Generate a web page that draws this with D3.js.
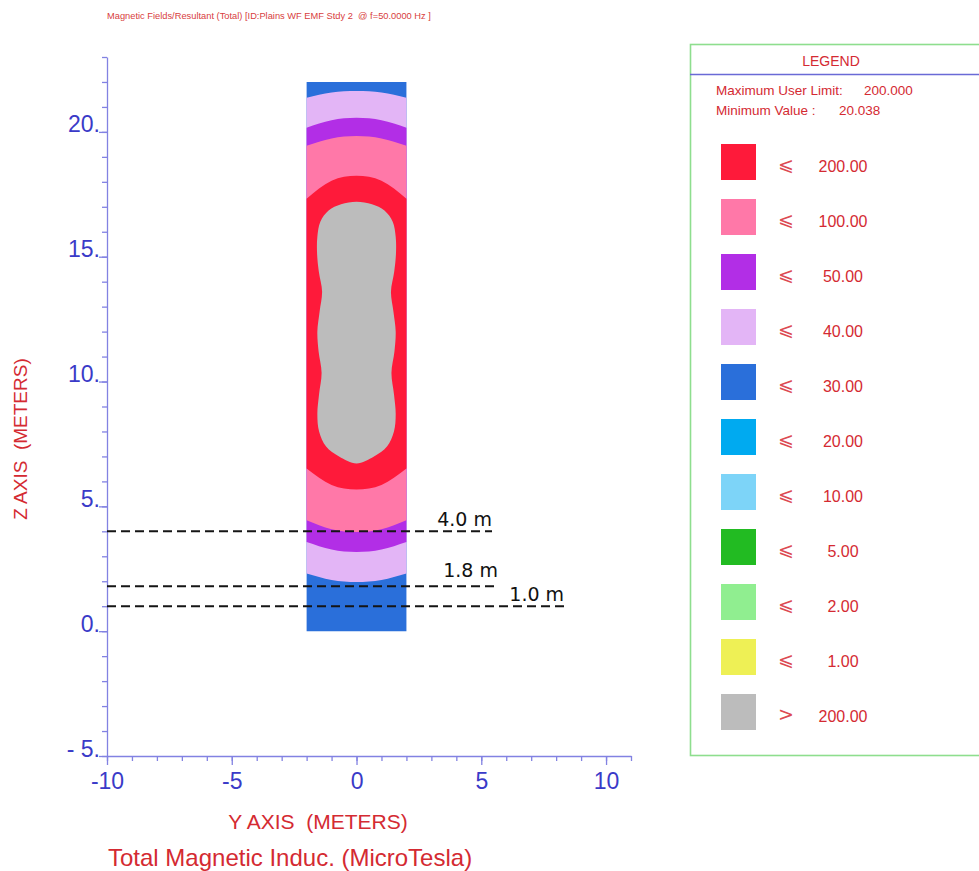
<!DOCTYPE html>
<html><head><meta charset="utf-8">
<script src="https://cdn.jsdelivr.net/npm/d3@7/dist/d3.min.js"></script>
<style>body{margin:0;background:#fff;} svg{display:block;}</style>
</head><body>
<svg id="c" width="979" height="871"></svg>
<script>
// ---------- data ----------
const titleText = "Magnetic Fields/Resultant (Total) [ID:Plains WF EMF Stdy 2  @ f=50.0000 Hz ]";
const yAxisTitle = "Y AXIS  (METERS)";
const zAxisTitle = "Z AXIS  (METERS)";
const unitTitle = "Total Magnetic Induc. (MicroTesla)";

const yMajorTicks = [-10, -5, 0, 5, 10];
const yTickLabels = ["-10", "-5", "0", "5", "10"];
const zMajorTicks = [-5, 0, 5, 10, 15, 20];
const zTickLabels = ["- 5.", "0.", "5.", "10.", "15.", "20."];

// sample positions across the calculation strip (Y, metres)
const bandY = [-2, -1, 0, 1, 2];
// upper / lower boundaries of each level (Z, metres)
const blueUpper   = [22, 22, 22, 22, 22];
const blueLower   = [0, 0, 0, 0, 0];
const lilacUpper  = [21.37, 21.58, 21.64, 21.58, 21.37];
const lilacLower  = [2.31, 2.05, 1.97, 2.05, 2.31];
const purpleUpper = [20.17, 20.47, 20.57, 20.47, 20.17];
const purpleLower = [3.57, 3.27, 3.17, 3.27, 3.57];
const pinkUpper   = [19.44, 19.74, 19.84, 19.74, 19.44];
const pinkLower   = [4.44, 4.08, 3.97, 4.08, 4.44];
const redUpper    = [17.32, 18.04, 18.24, 18.04, 17.32];
const redLower    = [6.52, 5.86, 5.68, 5.86, 6.52];

// > 200 µT core (half width vs Z)
const grayZ     = [17.2, 17.1, 16.85, 16.4, 15.8, 15.1, 14.4, 13.6, 12.8, 12.0, 11.2, 10.35, 9.5, 8.7, 8.0, 7.4, 7.0, 6.72];
const grayHalfW = [0, 0.62, 1.12, 1.45, 1.57, 1.58, 1.51, 1.38, 1.48, 1.57, 1.52, 1.4, 1.5, 1.57, 1.5, 1.22, 0.7, 0];

// measurement heights
const refLevels = [4.0, 1.8, 1.0];
const refEnds   = [5.43, 5.67, 8.32];
const refLabels = ["4.0 m", "1.8 m", "1.0 m"];

// legend
const legendColors  = ["#fe1a3a", "#ff78a8", "#b22ee6", "#e3b5f6", "#2a6fda", "#00aaf0", "#7dd4f8", "#22bb22", "#90ee90", "#eef055", "#bcbcbc"];
const legendSymbols = ["⩽", "⩽", "⩽", "⩽", "⩽", "⩽", "⩽", "⩽", "⩽", "⩽", ">"];
const legendValues  = ["200.00", "100.00", "50.00", "40.00", "30.00", "20.00", "10.00", "5.00", "2.00", "1.00", "200.00"];
const legendInfoLabels = ["Maximum User Limit:", "Minimum Value :"];
const legendInfoValues = ["200.000", "20.038"];

// ---------- drawing ----------
const svg = d3.select("#c");
const RED = "#d42a32", AX = "#8282e2", AXT = "#3a3ac8";
const x = d3.scaleLinear().domain([-10, 11]).range([107, 631]);
const z = d3.scaleLinear().domain([-5, 23]).range([756, 57]);

svg.append("text").attr("x", 107).attr("y", 19).attr("fill", "#d84040")
  .attr("xml:space", "preserve").style("white-space", "pre")
  .style("font", "9.3px 'Liberation Sans', Arial, sans-serif").text(titleText);

// bands
const bands = [
  {c: legendColors[4], up: blueUpper, lo: blueLower},
  {c: legendColors[3], up: lilacUpper, lo: lilacLower},
  {c: legendColors[2], up: purpleUpper, lo: purpleLower},
  {c: legendColors[1], up: pinkUpper, lo: pinkLower},
  {c: legendColors[0], up: redUpper, lo: redLower}
];
const area = d3.area().curve(d3.curveNatural)
  .x(d => x(d.y)).y0(d => z(d.lo)).y1(d => z(d.up));
bands.forEach(b => {
  const pts = bandY.map((y, i) => ({y, up: b.up[i], lo: b.lo[i]}));
  svg.append("path").attr("d", area(pts)).attr("fill", b.c);
});

// gray core
const right = grayZ.map((zz, i) => [grayHalfW[i], zz]);
const left = grayZ.slice(1, -1).map((zz, i) => [-grayHalfW[i + 1], zz]).reverse();
const grayPts = right.concat(left);
svg.append("path")
  .attr("d", d3.line().curve(d3.curveCatmullRomClosed.alpha(0.5)).x(d => x(d[0])).y(d => z(d[1]))(grayPts))
  .attr("fill", legendColors[10]);

// axes
function styleAxis(g) {
  g.selectAll("path,line").attr("stroke", AX).attr("stroke-width", 1.3);
  g.selectAll("text").attr("fill", AXT)
    .style("font", "23px 'Liberation Sans', Arial, sans-serif");
}
const yMinor = svg.append("g").attr("transform", `translate(0,${z(-5)})`)
  .call(d3.axisBottom(x).tickValues(d3.range(-10, 12)).tickSize(5).tickSizeOuter(0).tickFormat(""));
styleAxis(yMinor);
const yMajor = svg.append("g").attr("transform", `translate(0,${z(-5)})`)
  .call(d3.axisBottom(x).tickValues(yMajorTicks).tickSize(9).tickSizeOuter(0)
    .tickFormat((d, i) => yTickLabels[i]));
yMajor.select(".domain").remove();
styleAxis(yMajor);
yMajor.selectAll("text").attr("y", 17).attr("dy", "0.71em");

const zMinor = svg.append("g").attr("transform", `translate(${x(-10)},0)`)
  .call(d3.axisLeft(z).tickValues(d3.range(-5, 24)).tickSize(5).tickSizeOuter(0).tickFormat(""));
styleAxis(zMinor);
const zMajor = svg.append("g").attr("transform", `translate(${x(-10)},0)`)
  .call(d3.axisLeft(z).tickValues(zMajorTicks).tickSize(8).tickSizeOuter(0)
    .tickFormat((d, i) => zTickLabels[i]));
zMajor.select(".domain").remove();
styleAxis(zMajor);
zMajor.selectAll("text").attr("x", -7).attr("dy", "0em").style("white-space", "pre");

// axis titles
svg.append("text").attr("transform", `translate(27,439) rotate(-90)`)
  .attr("text-anchor", "middle").attr("fill", RED)
  .attr("xml:space", "preserve").style("white-space", "pre")
  .style("font", "19px 'Liberation Sans', Arial, sans-serif").text(zAxisTitle);
svg.append("text").attr("x", 318).attr("y", 829).attr("text-anchor", "middle").attr("fill", RED)
  .attr("xml:space", "preserve").style("white-space", "pre")
  .style("font", "21px 'Liberation Sans', Arial, sans-serif").text(yAxisTitle);
svg.append("text").attr("x", 108).attr("y", 866).attr("fill", RED)
  .style("font", "24px 'Liberation Sans', Arial, sans-serif").text(unitTitle);

// reference dashed lines
const refOffsets = [5, 9, 5];
refLevels.forEach((lv, i) => {
  svg.append("line").attr("x1", x(-10)).attr("x2", x(refEnds[i]))
    .attr("y1", z(lv)).attr("y2", z(lv))
    .attr("stroke", "#151515").attr("stroke-width", 2).attr("stroke-dasharray", "9,5");
  svg.append("text").attr("x", x(refEnds[i])).attr("y", z(lv) - refOffsets[i])
    .attr("text-anchor", "end").attr("fill", "#111")
    .style("font", "19px 'DejaVu Sans', Verdana, sans-serif").text(refLabels[i]);
});

// legend
const lg = svg.append("g");
lg.append("rect").attr("x", 690.5).attr("y", 44.5).attr("width", 320).attr("height", 711)
  .attr("fill", "none").attr("stroke", "#8ede8e").attr("stroke-width", 1.6);
lg.append("line").attr("x1", 690).attr("x2", 979).attr("y1", 74.5).attr("y2", 74.5)
  .attr("stroke", "#6a6ad6").attr("stroke-width", 1.3);
lg.append("text").attr("x", 831).attr("y", 66).attr("text-anchor", "middle").attr("fill", RED)
  .style("font", "14px 'Liberation Sans', Arial, sans-serif").text("LEGEND");
const infoValX = [864, 839];
legendInfoLabels.forEach((t, i) => {
  lg.append("text").attr("x", 716).attr("y", 95 + i * 20).attr("fill", RED)
    .style("font", "13.5px 'Liberation Sans', Arial, sans-serif").text(t);
  lg.append("text").attr("x", infoValX[i]).attr("y", 95 + i * 20).attr("fill", RED)
    .style("font", "13.5px 'Liberation Sans', Arial, sans-serif").text(legendInfoValues[i]);
});
legendColors.forEach((c, i) => {
  const y0 = 144 + i * 55;
  lg.append("rect").attr("x", 721).attr("y", y0).attr("width", 35).attr("height", 36).attr("fill", c);
  lg.append("text").attr("x", 786).attr("y", y0 + 27).attr("text-anchor", "middle").attr("fill", "#dc4a52")
    .style("font", "19px 'DejaVu Sans', sans-serif").text(legendSymbols[i]);
  lg.append("text").attr("x", 843).attr("y", y0 + 28).attr("text-anchor", "middle").attr("fill", RED)
    .style("font", "16px 'Liberation Sans', Arial, sans-serif").text(legendValues[i]);
});
</script>
</body></html>
